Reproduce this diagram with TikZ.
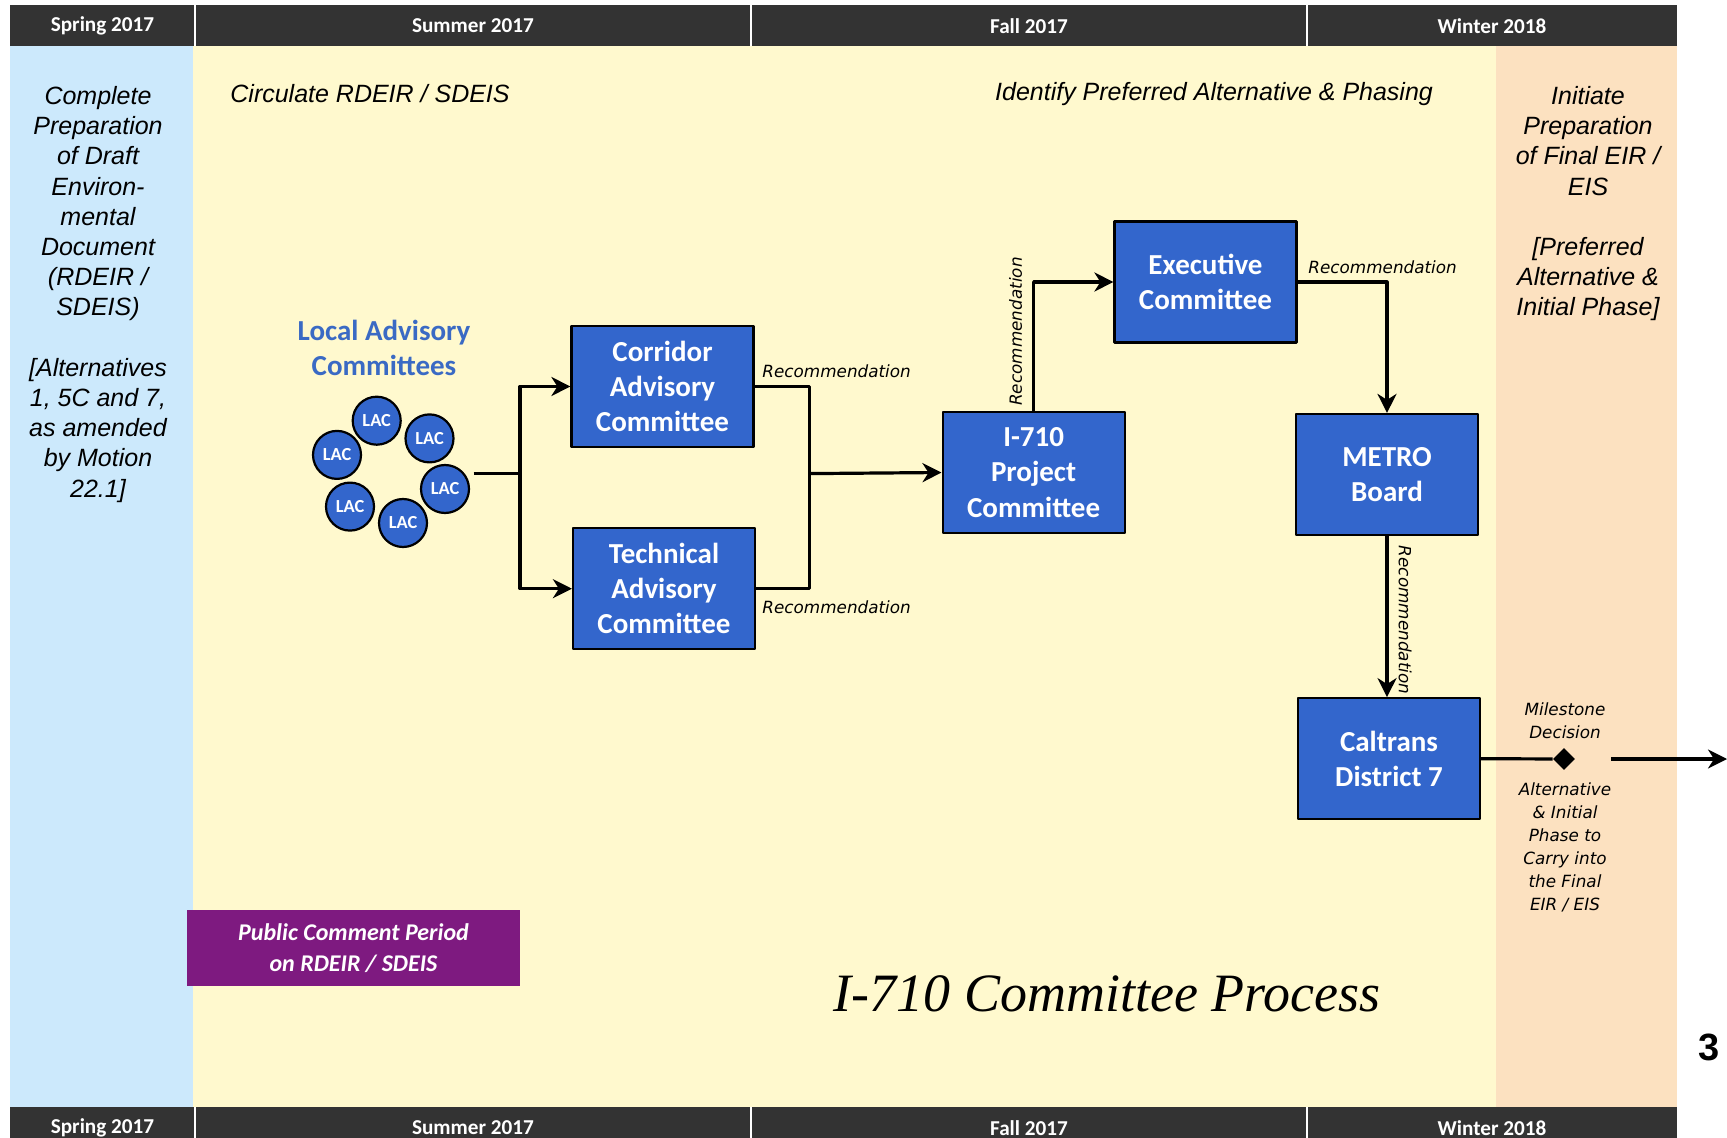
\documentclass[tikz,border=0pt]{standalone}
\usepackage{fontspec}
\usetikzlibrary{arrows.meta, positioning, shapes.geometric}
\newfontfamily\calibrifont{Carlito}
\newfontfamily\arialfont{Liberation Sans}
\newfontfamily\comicfont{DejaVu Sans}
\newfontfamily\timesfont{Liberation Serif}
\definecolor{springblue}{RGB}{204,233,252}
\definecolor{summeryellow}{RGB}{255,249,206}
\definecolor{winterpeach}{RGB}{252,225,192}
\definecolor{bardark}{RGB}{51,51,51}
\definecolor{boxblue}{RGB}{51,102,204}
\definecolor{titleblue}{RGB}{58,106,196}
\definecolor{commentpurple}{RGB}{126,26,128}
\tikzset{x=0.5pt,y=-0.5pt, >={Stealth[length=9.5pt,width=9.5pt,inset=3pt]}}

\begin{document}
\begin{tikzpicture}
% Style
[
    line join=round,
    season text/.style={text=white, inner sep=0pt, font=\calibrifont\bfseries\fontsize{10.6}{12}\selectfont},
    column text/.style={align=center, inner sep=0pt, font=\arialfont\itshape\fontsize{12.5}{15.1}\selectfont},
    committee/.style={rectangle, draw=black, line width=1.1pt, fill=boxblue, text=white, align=center,
        minimum width=91pt, minimum height=60.5pt, inner sep=0pt, font=\calibrifont\bfseries\fontsize{14.5}{17.6}\selectfont},
    lac/.style={circle, draw=black, line width=1.1pt, fill=boxblue, minimum size=24pt, inner sep=0pt,
        text=white, font=\calibrifont\bfseries\fontsize{9.2}{10}\selectfont},
    flow/.style={line width=1.6pt},
    note text/.style={align=center, inner sep=0pt, font=\comicfont\itshape\fontsize{8.4}{11.5}\selectfont}
]

%=================================== Start ===================================
{
    % Define: Page and season columns
    \useasboundingbox (0,0) rectangle (1727,1138);
    \fill[springblue]   (10,46)   rectangle (193,1107);
    \fill[summeryellow] (193,46)  rectangle (1496,1107);
    \fill[winterpeach]  (1496,46) rectangle (1677,1107);

    % Define: Season bars (top and bottom)
    \foreach \ya/\yb/\yt in {5.5/46/26, 1107/1145/1128} {
        \fill[bardark] (10,\ya) rectangle (1677,\yb);
        \foreach \xa/\xb/\season in {10/195/Spring 2017, 195/751/Summer 2017, 751/1307/Fall 2017, 1307/1677/Winter 2018} {
            \node[season text] (bar\yt-\xa) at ({(\xa+\xb)/2},\yt) {\season};
        }
        \foreach \xd in {195,751,1307}
            \draw[white, line width=0.8pt] (\xd,\ya) -- (\xd,\yb);
    }

    % Draw: Column notes
    \node[column text, anchor=north] (springnote) at (98,86)
        {Complete\\Preparation\\of Draft\\Environ-\\mental\\Document\\(RDEIR /\\SDEIS)\\[15.1pt][Alternatives\\1, 5C and 7,\\as amended\\by Motion\\22.1]};
    \node[column text, anchor=north] (winternote) at (1588,86)
        {Initiate\\Preparation\\of Final EIR /\\EIS\\[15.1pt][Preferred\\Alternative \&\\Initial Phase]};
    \node[column text, anchor=west] (circulate) at (230,94) {Circulate RDEIR / SDEIS};
    \node[column text] (identify) at (1214,94) {Identify Preferred Alternative \& Phasing};

    % Draw: Local advisory committees
    \node[align=center, text=titleblue, font=\calibrifont\bfseries\fontsize{14.5}{17.6}\selectfont] (lactitle) at (384,348)
        {Local Advisory\\Committees};
    \foreach \n/\x/\y in {1/376.7/420.7, 2/429.5/438.4, 3/337/454.9, 4/445/489, 5/350/506.6, 6/403/523}
        \node[lac] (lac\n) at (\x,\y) {LAC};

    % Draw: Committees
    \node[committee] (corridor)  at (662.5,386.5) {Corridor\\Advisory\\Committee};
    \node[committee] (technical) at (664,588.7)   {Technical\\Advisory\\Committee};
    \node[committee] (i710)      at (1033.6,472.5) {I-710\\Project\\Committee};
    \node[committee] (executive) at (1205.5,282)  {Executive\\Committee};
    \node[committee] (metro)     at (1387,474.5)  {METRO\\Board};
    \node[committee] (caltrans)  at (1389,758.7)  {Caltrans\\District 7};

    % Draw: Flow
    \coordinate (lacout) at (473.6,473.6);
    \coordinate (fork)   at (520,473.6);
    \coordinate (merge)  at (809.5,473.6);
    \draw[flow] (lacout) -- (fork);
    \draw[flow,->] (fork) |- (corridor.west);
    \draw[flow,->] (fork) |- (technical.west);
    \draw[flow] (corridor.east) -| (merge);
    \draw[flow] (technical.east) -| (merge);
    \draw[flow,->] (merge) -- (i710.west);
    \draw[flow,->] (i710.north) |- (executive.west);
    \draw[flow,->] (executive.east) -| (metro.north);
    \draw[flow,->] (metro.south) -- (metro.south |- caltrans.north);

    \node[note text, anchor=west] (rec1) at (762,371) {Recommendation};
    \node[note text, anchor=west] (rec2) at (762,607) {Recommendation};
    \node[note text, rotate=90]   (rec3) at (1015.5,331.5) {Recommendation};
    \node[note text, anchor=west] (rec4) at (1308,267.6) {Recommendation};
    \node[note text, rotate=-90]  (rec5) at (1405,620) {Recommendation};

    % Draw: Milestone
    \node[diamond, fill=black, minimum size=11pt, inner sep=0pt] (milestone) at (1564,759) {};
    \draw[flow] (caltrans.east) -- (milestone);
    \node[note text] (milestonelabel) at (1565,721) {Milestone\\Decision};
    \node[note text, anchor=north] (carrylabel) at (1565,782)
        {Alternative\\\& Initial\\Phase to\\Carry into\\the Final\\EIR / EIS};
    \coordinate (carry)  at (1611,759);
    \coordinate (beyond) at (1727,759);
    \draw[flow,->] (carry) -- (beyond);

    % Draw: Public comment and title
    \node[rectangle, fill=commentpurple, minimum width=166.5pt, minimum height=38pt, text=white, align=center,
        font=\calibrifont\bfseries\itshape\fontsize{12}{15.4}\selectfont] (comment) at (353.5,948)
        {Public Comment Period\\on RDEIR / SDEIS};
    \node[font=\timesfont\itshape\fontsize{27}{30}\selectfont] (title) at (1107,994) {I-710 Committee Process};
    \node[font=\arialfont\bfseries\fontsize{19}{20}\selectfont] (pagenum) at (1709,1047) {3};
}
%==================================== END ====================================

\end{tikzpicture}
\end{document}
